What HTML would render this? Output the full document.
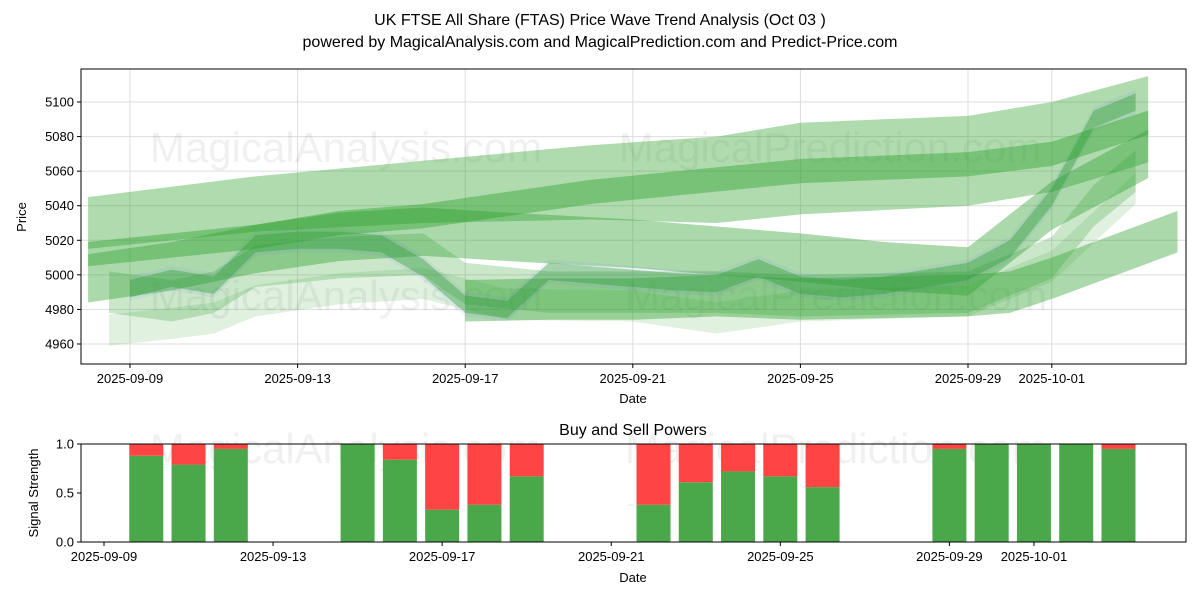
<!DOCTYPE html>
<html><head><meta charset="utf-8"><style>
html,body{margin:0;padding:0;background:#fff;}
svg{display:block;font-family:"Liberation Sans","DejaVu Sans",sans-serif;}
</style></head><body>
<svg id="c" width="1200" height="600" viewBox="0 0 1200 600">
<text x="600" y="25" text-anchor="middle" font-size="16">UK FTSE All Share (FTAS) Price Wave Trend Analysis (Oct 03 )</text>
<text x="600" y="47" text-anchor="middle" font-size="16">powered by MagicalAnalysis.com and MagicalPrediction.com and Predict-Price.com</text>
<g id="topPanel"></g>
<g id="botPanel"></g>
</svg>
<script>
const topTicks=[4960,4980,5000,5020,5040,5060,5080,5100];
const dateTicks=["2025-09-09","2025-09-13","2025-09-17","2025-09-21","2025-09-25","2025-09-29","2025-10-01"];
const dateTickDays=[0,4,8,12,16,20,22];
const bandUpperDays=[-1,3,7,11,14,16,20,22,24.3];
const bandUpperTop=[5045,5057,5066,5075,5080,5088,5092,5100,5115];
const bandUpperBot=[5015,5025,5030,5032,5030,5035,5040,5048,5065];
const bandMidDays=[-1,3,5,7,11,16,20,22,24.3];
const bandMidVals=[5012,5022,5030,5034,5048,5060,5064,5070,5088];
const bandMiddleDays=[-1,1,3,5,7,9,12,16,18,20,22,24.3];
const bandMiddleVals=[4998,5005,5015,5022,5025,5022,5018,5010,5005,5002,5040,5070];
const bandLowDays=[8,10,12,14,16,18,20,21,22,25];
const bandLowVals=[4985,4986,4986,4988,4986,4987,4988,4990,4998,5025];
const bandLightDays=[-0.5,1,2,3,5,7,8,10,14,16,20,22,23,24];
const bandLightVals=[4990,4985,4990,5005,5010,5012,4995,4990,4990,4988,4990,5010,5040,5060];
const bandFaintDays=[-0.5,1,2,3,5,7,9,12,14,16,20,22,24];
const bandFaintVals=[4968,4972,4975,4985,4992,4995,4983,4982,4975,4982,4985,5005,5050];
const priceDays=[0,1,2,3,4,5,6,7,8,9,10,11,12,13,14,15,16,17,18,19,20,21,22,23,24];
const priceVals=[4992,4998,4994,5018,5020,5020,5018,5004,4983,4980,5002,5000,4998,4996,4995,5004,4994,4992,4994,4998,5002,5015,5045,5090,5100];
const barDays=[1,2,3,6,7,8,9,10,13,14,15,16,17,20,21,22,23,24];
const buyVals=[0.88,0.79,0.95,1.0,0.84,0.33,0.38,0.67,0.38,0.61,0.72,0.67,0.56,0.95,1.0,1.0,1.0,0.95];
const botTicks=[0,0.5,1.0];

const NS="http://www.w3.org/2000/svg";
function mk(tag,attrs,parent){const e=document.createElementNS(NS,tag);for(const k in attrs)e.setAttribute(k,attrs[k]);parent.appendChild(e);return e;}
const T={l:81,r:1186,t:69,b:364};
const xT=d=>130+d*41.9;
const yT=v=>102+(5100-v)*1.7286;
const B={l:81,r:1186,t:444,b:542};
const xB=d=>104+d*42.27;
const yB=v=>542-v*98;
const topG=document.getElementById('topPanel'),botG=document.getElementById('botPanel');

topTicks.forEach(v=>{const l=mk('line',{x1:T.l,x2:T.r,y1:yT(v),y2:yT(v),stroke:'#ddd','stroke-width':1},topG);

});
dateTickDays.forEach(d=>{const l=mk('line',{x1:xT(d),x2:xT(d),y1:T.t,y2:T.b,stroke:'#ddd','stroke-width':1},topG);

});
[[346,162,'MagicalAnalysis.com'],[830,162,'MagicalPrediction.com'],[346,310,'MagicalAnalysis.com'],[836,310,'MagicalPrediction.com']].forEach(w=>{
const t=mk('text',{x:w[0],y:w[1],'text-anchor':'middle','font-size':42,fill:'#000','fill-opacity':0.06},topG);t.textContent=w[2];

});
function poly(days,topV,botV,fill,op,name){
 const up=days.map((d,i)=>xT(d)+','+yT(topV[i])).join(' ');
 const dn=days.map((d,i)=>xT(d)+','+yT(botV[i])).reverse().join(' ');
 const p=mk('polygon',{points:up+' '+dn,fill:fill,'fill-opacity':op},topG);
 
 
}
function band(days,vals,hw,fill,op,name){
 poly(days,vals.map(v=>v+hw),vals.map(v=>v-hw),fill,op,name);
}
band(bandFaintDays,bandFaintVals,9,'#2ca02c',0.15,'wave-band-faint');
band(bandLightDays,bandLightVals,12,'#2ca02c',0.25,'wave-band-light');
poly(bandUpperDays,bandUpperTop,bandUpperBot,'#2ca02c',0.38,'wave-band-upper');
band(bandMiddleDays,bandMiddleVals,14,'#2ca02c',0.4,'wave-band-middle');
band(bandLowDays,bandLowVals,12,'#2ca02c',0.4,'wave-band-low');
band(priceDays,priceVals,7,'#6666ff',0.08,'price-shadow');
band(priceDays,priceVals,5,'#2ca02c',0.4,'price-wave');
band(bandMidDays,bandMidVals,7,'#2ca02c',0.42,'wave-band-mid');
let f=mk('rect',{x:T.l,y:T.t,width:T.r-T.l,height:T.b-T.t,fill:'none',stroke:'#000','stroke-width':1},topG);


topTicks.forEach(v=>{mk('line',{x1:T.l-4,x2:T.l,y1:yT(v),y2:yT(v),stroke:'#000'},topG);
const t=mk('text',{x:T.l-7,y:yT(v)+4.5,'text-anchor':'end','font-size':13},topG);t.textContent=v;

});
dateTicks.forEach((s,i)=>{const x=xT(dateTickDays[i]);mk('line',{x1:x,x2:x,y1:T.b,y2:T.b+4,stroke:'#000'},topG);
const t=mk('text',{x:x,y:T.b+19,'text-anchor':'middle','font-size':13},topG);t.textContent=s;

});
let a=mk('text',{x:633,y:403,'text-anchor':'middle','font-size':13},topG);a.textContent='Date';


a=mk('text',{x:26,y:217,'text-anchor':'middle','font-size':13,transform:'rotate(-90 26 217)'},topG);a.textContent='Price';



[[346,463,'MagicalAnalysis.com'],[836,463,'MagicalPrediction.com']].forEach(w=>{
const t=mk('text',{x:w[0],y:w[1],'text-anchor':'middle','font-size':42,fill:'#000','fill-opacity':0.06},botG);t.textContent=w[2];

});
barDays.forEach((d,i)=>{const x=xB(d)-17;
const g=mk('rect',{x:x,y:yB(buyVals[i]),width:34,height:yB(0)-yB(buyVals[i]),fill:'#4aa84a'},botG);


const r=mk('rect',{x:x,y:yB(1),width:34,height:yB(buyVals[i])-yB(1),fill:'#ff4444'},botG);

});
f=mk('rect',{x:B.l,y:B.t,width:B.r-B.l,height:B.b-B.t,fill:'none',stroke:'#000','stroke-width':1},botG);


botTicks.forEach(v=>{mk('line',{x1:B.l-4,x2:B.l,y1:yB(v),y2:yB(v),stroke:'#000'},botG);
const t=mk('text',{x:B.l-7,y:yB(v)+4.5,'text-anchor':'end','font-size':13},botG);t.textContent=v.toFixed(1);

});
dateTicks.forEach((s,i)=>{const x=xB(dateTickDays[i]);mk('line',{x1:x,x2:x,y1:B.b,y2:B.b+4,stroke:'#000'},botG);
const t=mk('text',{x:x,y:B.b+19,'text-anchor':'middle','font-size':13},botG);t.textContent=s;

});
a=mk('text',{x:633,y:435,'text-anchor':'middle','font-size':16},botG);a.textContent='Buy and Sell Powers';


a=mk('text',{x:633,y:582,'text-anchor':'middle','font-size':13},botG);a.textContent='Date';


a=mk('text',{x:38,y:493,'text-anchor':'middle','font-size':13,transform:'rotate(-90 38 493)'},botG);a.textContent='Signal Strength';


</script>
</body></html>
